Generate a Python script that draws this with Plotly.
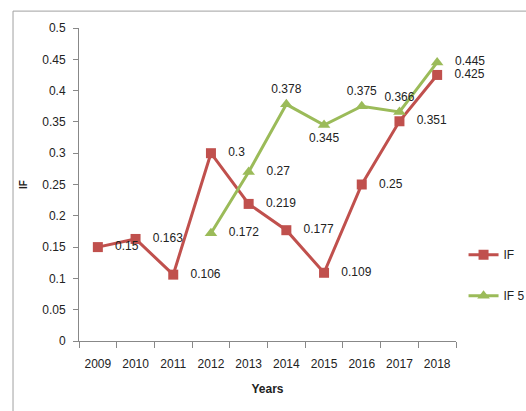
import plotly.graph_objects as go

years = ["2009", "2010", "2011", "2012", "2013", "2014", "2015", "2016", "2017", "2018"]
if_vals = [0.15, 0.163, 0.106, 0.3, 0.219, 0.177, 0.109, 0.25, 0.351, 0.425]
if5_years = ["2012", "2013", "2014", "2015", "2016", "2017", "2018"]
if5_vals = [0.172, 0.27, 0.378, 0.345, 0.375, 0.366, 0.445]
if5_pos = ["middle right", "middle right", "top center", "bottom center", "top center", "top center", "middle right"]

FONT = "Liberation Sans, Arial, sans-serif"
RED = "#C0504D"
GREEN = "#9BBB59"

def lab(v, pos):
    return ("   " + str(v)) if pos == "middle right" else str(v)

fig = go.Figure()
fig.add_trace(go.Scatter(
    x=years, y=if_vals, name="IF", mode="lines+markers+text",
    line=dict(color=RED, width=3), marker=dict(symbol="square", size=10, color=RED),
    text=[lab(v, "middle right") for v in if_vals], textposition="middle right",
    textfont=dict(family=FONT, size=12, color="#222"), legendgroup="a", cliponaxis=False,
))
fig.add_trace(go.Scatter(
    x=if5_years, y=if5_vals, name="IF 5", mode="lines+markers+text",
    line=dict(color=GREEN, width=3), marker=dict(symbol="triangle-up", size=11, color=GREEN),
    text=[lab(v, p) for v, p in zip(if5_vals, if5_pos)], textposition=if5_pos,
    textfont=dict(family=FONT, size=12, color="#222"), legendgroup="b", cliponaxis=False,
))

fig.update_layout(
    width=526, height=411,
    margin=dict(l=79, r=70, t=28, b=70, autoexpand=False),
    paper_bgcolor="white", plot_bgcolor="white",
    font=dict(family=FONT, size=12, color="#222"),
    showlegend=True,
    legend=dict(x=1.02, y=0.21, xanchor="left", yanchor="middle",
                tracegroupgap=22, traceorder="grouped",
                font=dict(family=FONT, size=12, color="#222"), itemwidth=30),
    shapes=[dict(type="rect", xref="paper", yref="paper",
                 x0=-0.175, x1=1.3, y0=-0.4, y1=1.054,
                 line=dict(color="#A0A0A0", width=1), fillcolor="rgba(0,0,0,0)")],
)
fig.update_xaxes(
    type="category", categoryorder="array", categoryarray=years,
    showline=True, linecolor="#888", linewidth=1,
    ticks="outside", ticklen=6, tickcolor="#888", tickson="boundaries",
    showgrid=False, zeroline=False, tickangle=0, ticklabelstandoff=12,
    title=dict(text="<b>Years</b>", font=dict(family=FONT, size=12), standoff=14),
    tickfont=dict(family=FONT, size=12), range=[-0.5, 9.5],
)
fig.update_yaxes(
    range=[0, 0.5], dtick=0.05, tickformat="~g",
    showline=True, linecolor="#888", linewidth=1,
    ticks="outside", ticklen=5, tickcolor="#888", ticklabelstandoff=5,
    showgrid=False, zeroline=False,
    title=dict(text="<b>IF</b>", font=dict(family=FONT, size=10), standoff=12),
    tickfont=dict(family=FONT, size=12),
)

fig.write_html("out.html")
